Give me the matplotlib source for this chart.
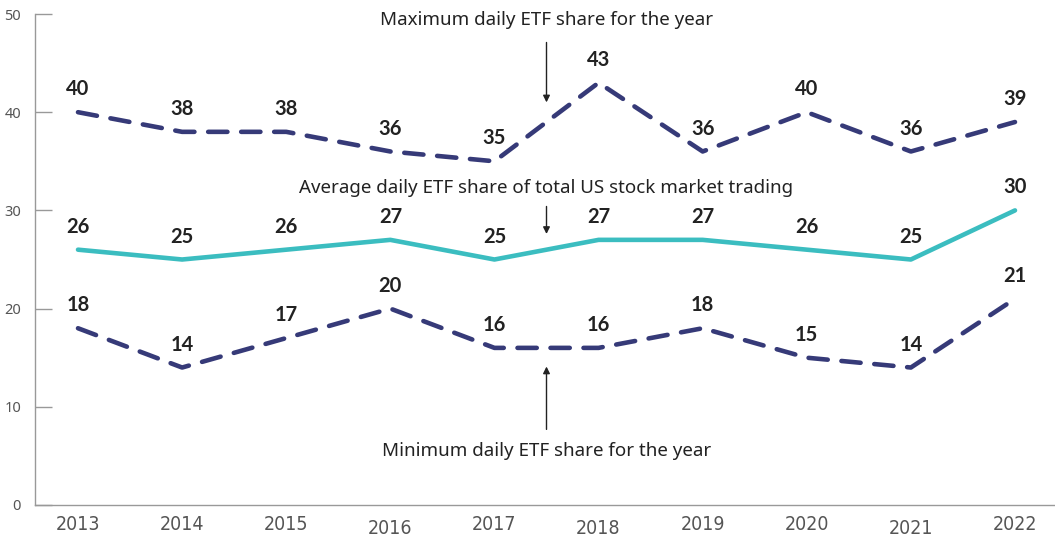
import matplotlib
matplotlib.use("Agg")
import matplotlib.pyplot as plt
from matplotlib.transforms import ScaledTranslation

years = [2013, 2014, 2015, 2016, 2017, 2018, 2019, 2020, 2021, 2022]
max_share = [40, 38, 38, 36, 35, 43, 36, 40, 36, 39]
avg_share = [26, 25, 26, 27, 25, 27, 27, 26, 25, 30]
min_share = [18, 14, 17, 20, 16, 16, 18, 15, 14, 21]
y_ticks = [0, 10, 20, 30, 40, 50]

NAVY = "#363a78"
TEAL = "#3bbdc0"
INK = "#222222"
GREY = "#555555"

fig = plt.figure(figsize=(10.55, 5.43), dpi=100)
ax = fig.add_axes([35 / 1055, 38 / 543, 1 - 35 / 1055, (505 - 14) / 543])

text_font = "Noto Sans"
value_font = "Lato"

ax.plot(years, max_share, color=NAVY, lw=3.3, dashes=(4.2, 3.0),
        dash_capstyle="round", zorder=3)
ax.plot(years, min_share, color=NAVY, lw=3.3, dashes=(4.2, 3.0),
        dash_capstyle="round", zorder=3)
ax.plot(years, avg_share, color=TEAL, lw=3.3, solid_capstyle="round", zorder=3)

for series in (max_share, avg_share, min_share):
    for x, v in zip(years, series):
        ax.annotate(str(v), (x, v), xytext=(0, 16.5), textcoords="offset points",
                    ha="center", va="center", fontsize=14.5, fontweight="bold",
                    color=INK, family=value_font)

# callouts
xa = 2017.5
arrow = dict(arrowstyle="-|>", color=INK, lw=1.0, mutation_scale=10,
             shrinkA=0, shrinkB=0)
ax.text(xa, 49.4, "Maximum daily ETF share for the year", ha="center", va="center",
        fontsize=13.5, color=INK, family=text_font)
ax.annotate("", xy=(xa, 41.0), xytext=(xa, 47.1), arrowprops=arrow)
ax.text(xa, 32.3, "Average daily ETF share of total US stock market trading",
        ha="center", va="center", fontsize=13.5, color=INK, family=text_font)
ax.annotate("", xy=(xa, 27.6), xytext=(xa, 30.4), arrowprops=arrow)
ax.text(xa, 5.5, "Minimum daily ETF share for the year", ha="center", va="center",
        fontsize=13.5, color=INK, family=text_font)
ax.annotate("", xy=(xa, 14.1), xytext=(xa, 7.7), arrowprops=arrow)

ax.set_xlim(2013 - 43 / 104.1, 2022 + 40 / 104.1)
ax.set_ylim(0, 50)
ax.set_yticks(y_ticks)
ax.set_xticks(years)
ax.set_xticklabels([str(y) for y in years], family="DejaVu Sans",
                   fontstretch="condensed", fontsize=14, color=GREY)
ax.set_yticklabels([str(t) for t in y_ticks], family=text_font, fontsize=10.5,
                   color=GREY)

ax.tick_params(axis="y", direction="in", length=12, width=1, color="#999999", pad=10)
ax.tick_params(axis="x", length=0, pad=7)

for s in ("top", "right"):
    ax.spines[s].set_visible(False)
for s in ("left", "bottom"):
    ax.spines[s].set_color("#999999")
    ax.spines[s].set_linewidth(1.0)

# some year labels sit slightly lower
for lab in ax.get_xticklabels():
    if lab.get_text() in ("2016", "2018", "2021"):
        lab.set_transform(lab.get_transform() +
                          ScaledTranslation(0, -4 / 100, fig.dpi_scale_trans))

fig.savefig("out.png", dpi=100)
